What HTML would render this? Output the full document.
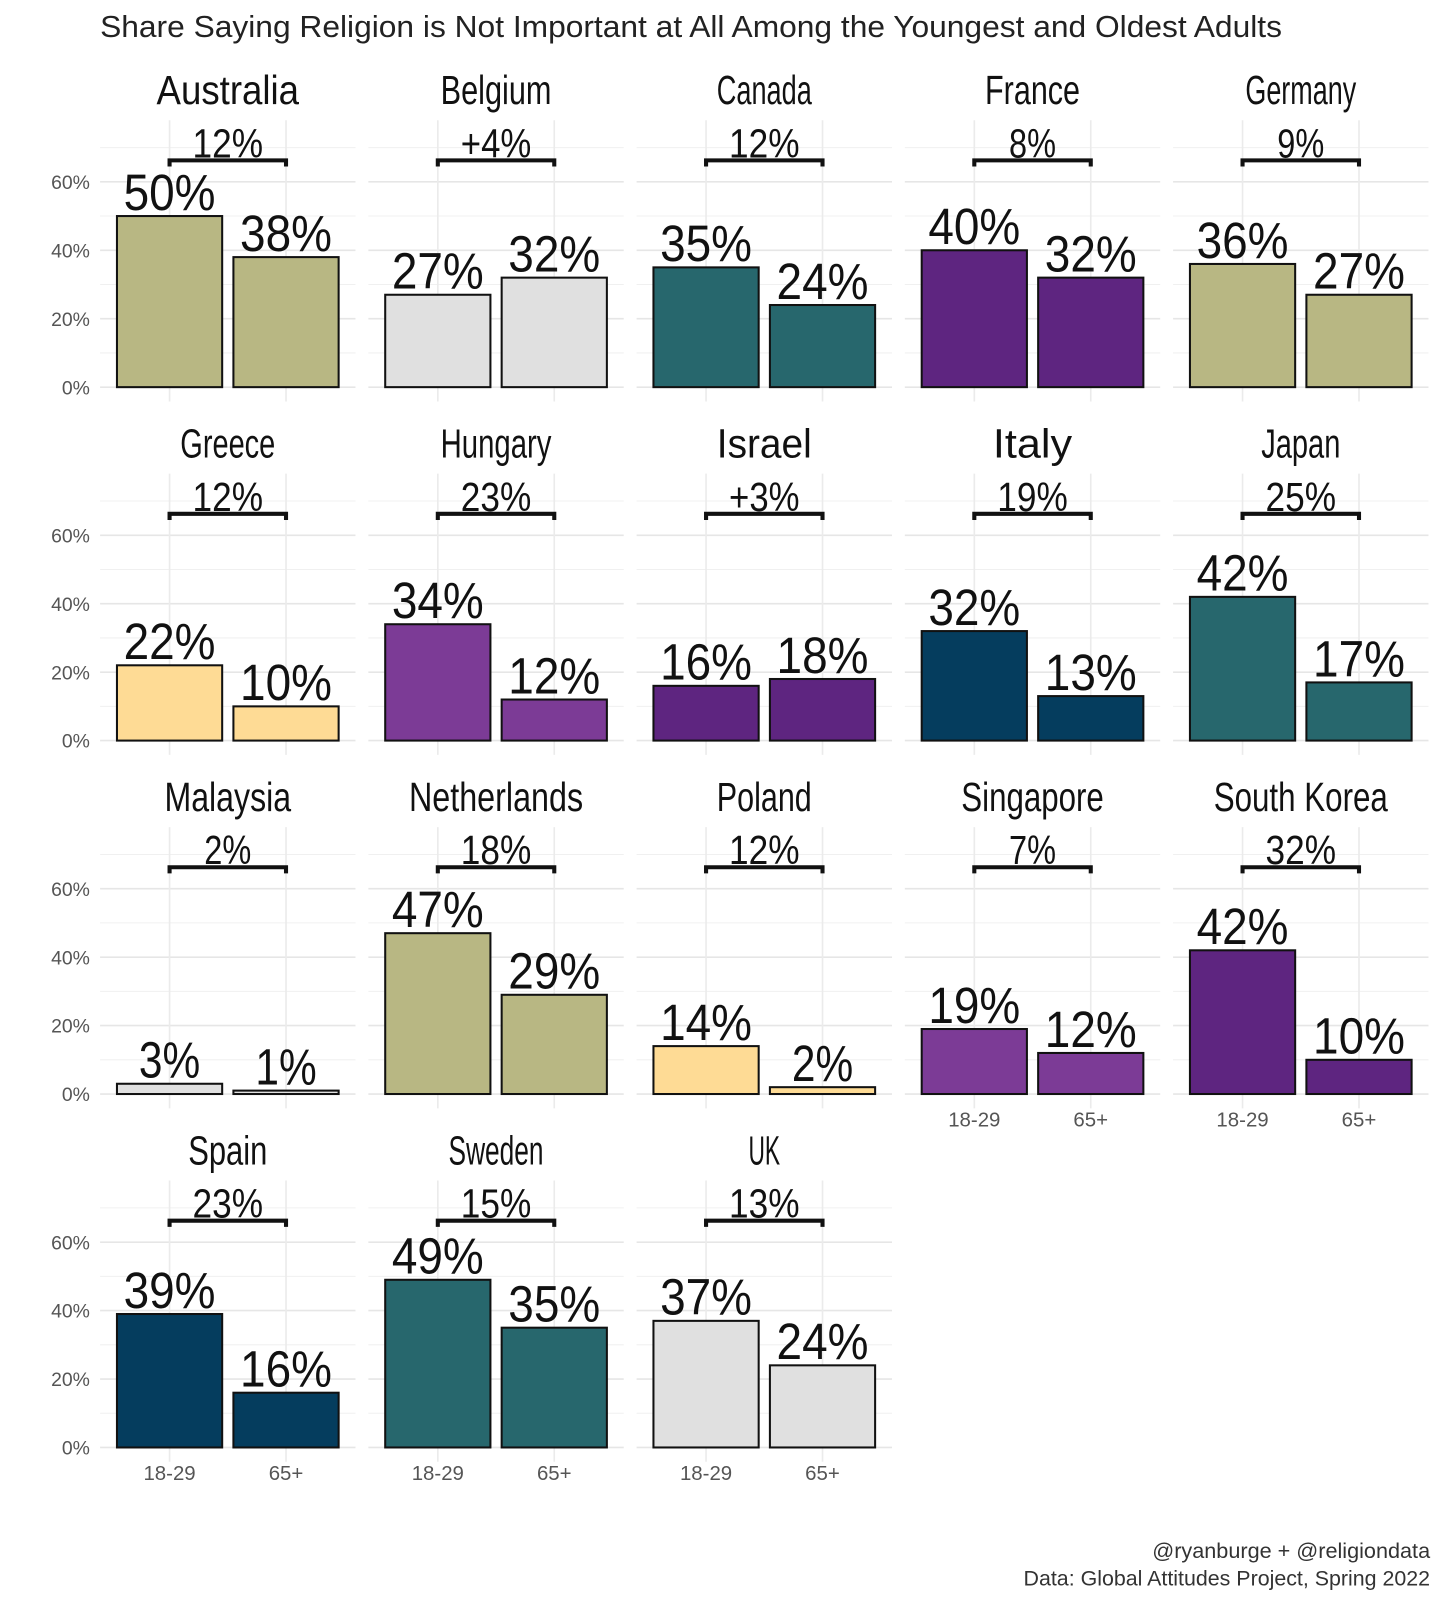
<!DOCTYPE html>
<html><head><meta charset="utf-8"><style>
html,body{margin:0;padding:0;background:#fff;overflow:hidden;width:1440px;height:1600px;}
svg{display:block;}
svg text{font-family:"Liberation Sans",sans-serif;}
</style></head><body>
<svg width="1440" height="1600" viewBox="0 0 1440 1600" xmlns="http://www.w3.org/2000/svg">
<g id="chart" transform="scale(1.0215)">
<text x="98" y="36" font-size="30" fill="#222" textLength="1157" lengthAdjust="spacingAndGlyphs">Share Saying Religion is Not Important at All Among the Youngest and Oldest Adults</text>
<text x="1400" y="1525" font-size="21" fill="#333" text-anchor="end" textLength="272" lengthAdjust="spacingAndGlyphs">@ryanburge + @religiondata</text>
<text x="1400" y="1552" font-size="21" fill="#333" text-anchor="end" textLength="398" lengthAdjust="spacingAndGlyphs">Data: Global Attitudes Project, Spring 2022</text>
</g>
</svg>
<script>
const countries=["Australia","Belgium","Canada","France","Germany","Greece","Hungary","Israel","Italy","Japan","Malaysia","Netherlands","Poland","Singapore","South Korea","Spain","Sweden","UK"];
const young=[50,27,35,40,36,22,34,16,32,42,3,47,14,19,42,39,49,37];
const old=[38,32,24,32,27,10,12,18,13,17,1,29,2,12,10,16,35,24];
const diffLabels=["12%","+4%","12%","8%","9%","12%","23%","+3%","19%","25%","2%","18%","12%","7%","32%","23%","15%","13%"];
const colorKeys=["khaki","grey","teal","dpurple","khaki","yellow","mpurple","dpurple","navy","teal","grey","khaki","yellow","mpurple","dpurple","navy","teal","grey"];
const yTicks=[0,20,40,60];
const ageLabels=["18-29","65+"];
const palette={khaki:"#b8b783",grey:"#e0e0e0",teal:"#27676d",dpurple:"#5e2580",mpurple:"#7c3b96",navy:"#053d5e",yellow:"#fedb95"};
const svg=document.getElementById('chart');
const NS="http://www.w3.org/2000/svg";
function mk(tag,attrs,parent){const e=document.createElementNS(NS,tag);for(const k in attrs)e.setAttribute(k,attrs[k]);(parent||svg).appendChild(e);return e;}
const scaleY=3.35;
function yPos(base,v){return base-v*scaleY;}
countries.forEach((c,i)=>{
  const col=i%5,row=Math.floor(i/5);
  const x0=98+col*262.6, base=379+row*346;
  const g=mk('g',{});
  
  
  const cx=[x0+68,x0+182];
  for(let v=0;v<=70;v+=10){
    const l=mk('line',{x1:x0,x2:x0+250,y1:yPos(base,v),y2:yPos(base,v),stroke:v%20==0?'#e6e6e6':'#f0f0f0','stroke-width':v%20==0?1.6:1},g);
    
    
  }
  cx.forEach(x=>{const l=mk('line',{x1:x,x2:x,y1:yPos(base,78),y2:base+14,stroke:'#ebebeb','stroke-width':1.6},g);
    
    });
  if(col==0){yTicks.forEach(v=>{const t=mk('text',{x:x0-10,y:yPos(base,v)+7,'font-size':19,fill:'#555','text-anchor':'end'},g);t.textContent=v+'%';
    
    });}
  const tt=mk('text',{x:x0+125,y:base-277,'font-size':40,fill:'#111','text-anchor':'middle',textLength:c.length*15.5,lengthAdjust:'spacingAndGlyphs'},g);
  tt.textContent=c;
  
  
  const vals=[young[i],old[i]];
  vals.forEach((v,k)=>{
    const b=mk('rect',{x:cx[k]-51.5,y:yPos(base,v),width:103,height:v*scaleY,fill:palette[colorKeys[i]],stroke:'#111','stroke-width':2},g);
    
    
    const s=v+'%';
    const t=mk('text',{x:cx[k],y:yPos(base,v)-6,'font-size':50,fill:'#111','text-anchor':'middle',textLength:s.length*30,lengthAdjust:'spacingAndGlyphs'},g);
    t.textContent=s;
    
    
  });
  const by=base-222;
  const br=mk('path',{d:`M${cx[0]} ${by+6}V${by}H${cx[1]}V${by+6}`,fill:'none',stroke:'#111','stroke-width':4},g);
  
  
  const d=diffLabels[i];
  const dt=mk('text',{x:x0+125,y:by-3,'font-size':40,fill:'#111','text-anchor':'middle',textLength:d.length*23,lengthAdjust:'spacingAndGlyphs'},g);
  dt.textContent=d;
  
  
  if(row==3||(row==2&&col>=3)){ageLabels.forEach((a,k)=>{const t=mk('text',{x:cx[k],y:base+32,'font-size':20,fill:'#555','text-anchor':'middle'},g);t.textContent=a;
    
    });}
});
</script>
</body></html>
